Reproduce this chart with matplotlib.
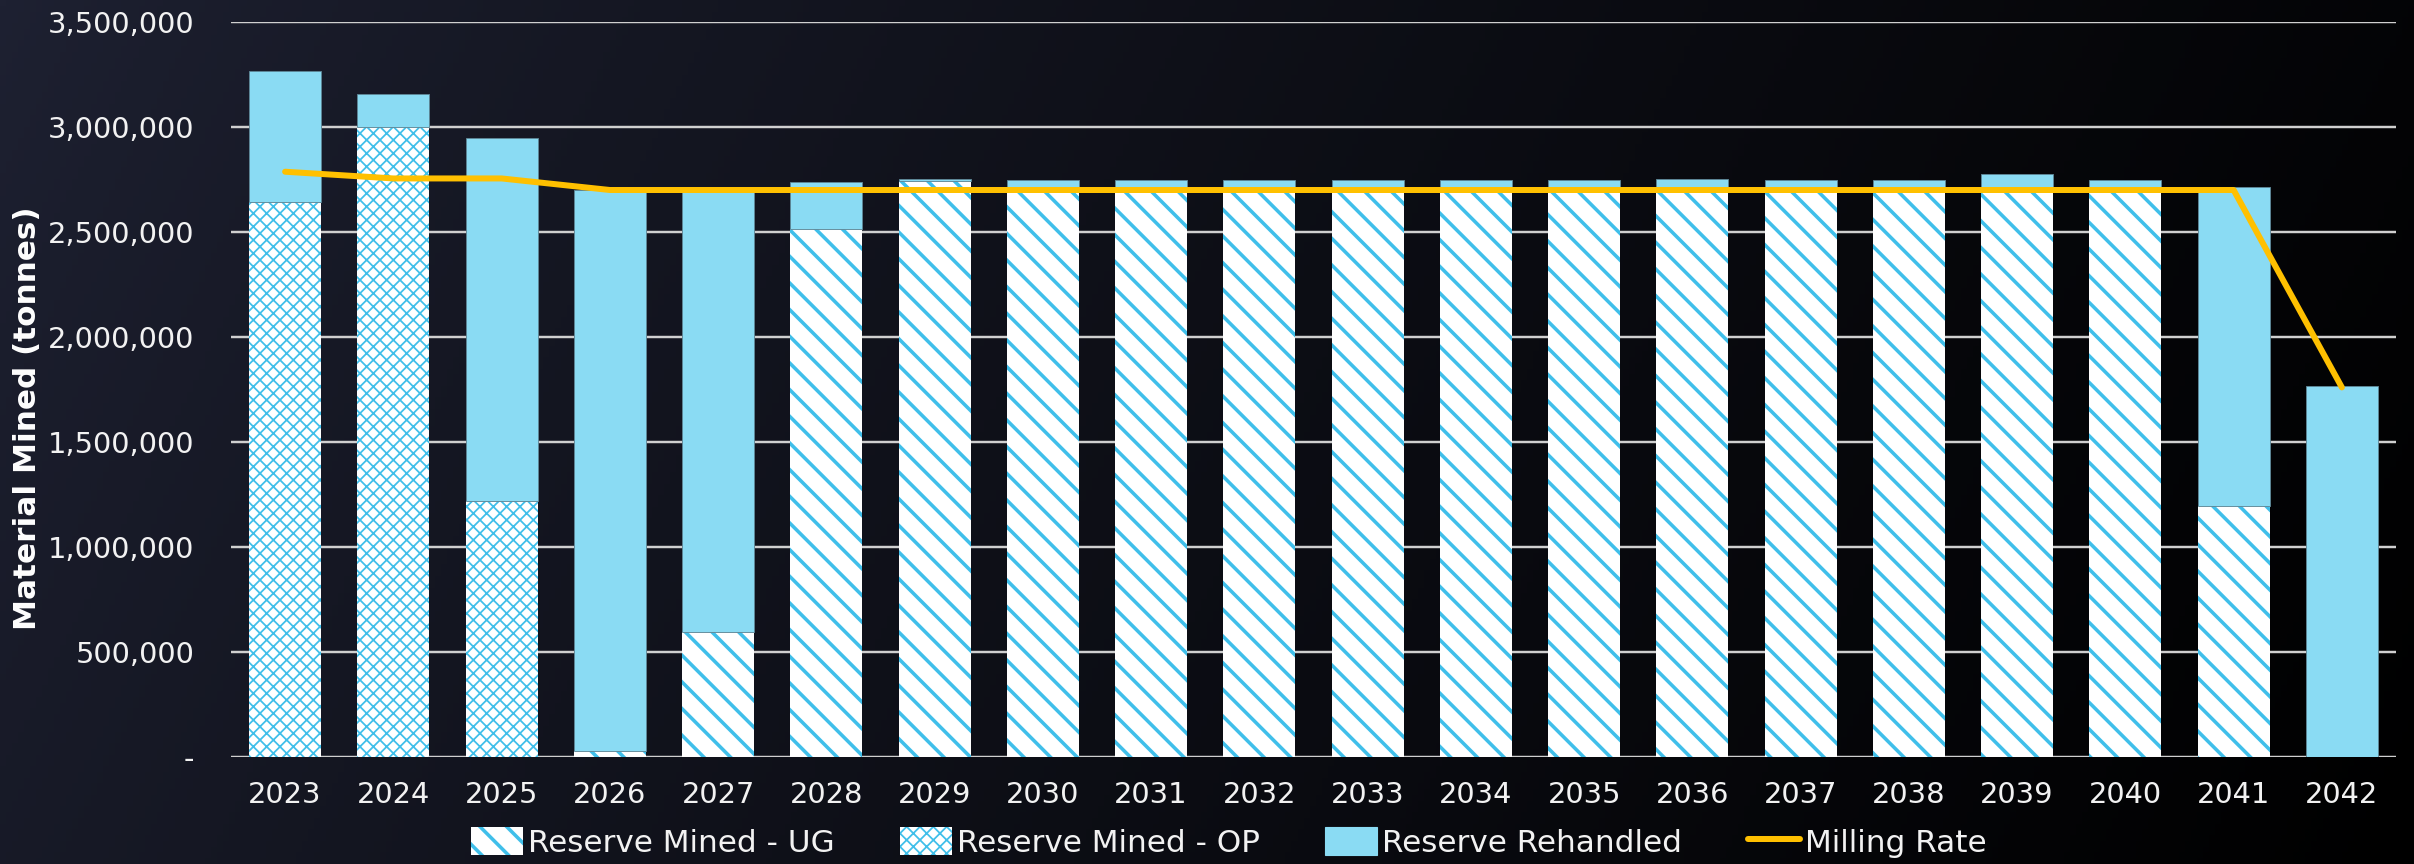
import matplotlib
matplotlib.use('Agg')
import matplotlib.pyplot as plt
from matplotlib.patches import Patch
from matplotlib.lines import Line2D
import numpy as np

# values in tonnes
years = [str(y) for y in range(2023, 2043)]
mined_ug = [0, 0, 0, 30e3, 597e3, 2513e3, 2745e3, 2700e3, 2700e3, 2700e3,
            2700e3, 2700e3, 2700e3, 2700e3, 2700e3, 2700e3, 2700e3, 2700e3, 1195e3, 0]
mined_op = [2641e3, 3000e3, 1219e3, 0, 0, 0, 0, 0, 0, 0,
            0, 0, 0, 0, 0, 0, 0, 0, 0, 0]
rehandled = [626e3, 155e3, 1727e3, 2672e3, 2103e3, 225e3, 7e3, 46e3, 46e3, 46e3,
             46e3, 46e3, 46e3, 52e3, 46e3, 46e3, 76e3, 46e3, 1519e3, 1767e3]
milling = [2787e3, 2755e3, 2755e3, 2700e3, 2700e3, 2700e3, 2700e3, 2700e3, 2700e3, 2700e3,
           2700e3, 2700e3, 2700e3, 2700e3, 2700e3, 2700e3, 2700e3, 2700e3, 2700e3, 1760e3]
y_ticks = [0, 500e3, 1000e3, 1500e3, 2000e3, 2500e3, 3000e3, 3500e3]
y_ticklabels = ['-', '500,000', '1,000,000', '1,500,000', '2,000,000',
                '2,500,000', '3,000,000', '3,500,000']

hatch_blue = '#40BFEA'
fill_blue = '#8ADBF3'
gold = '#FFC000'
UG_LW = 3.2
OP_LW = 1.6

plt.rcParams['font.family'] = ['DejaVu Sans']
plt.rcParams['hatch.linewidth'] = UG_LW


def with_hatch_lw(artist, lw):
    # give one patch its own hatch width
    if hasattr(artist, 'set_hatch_linewidth'):
        artist.set_hatch_linewidth(lw)
    orig = artist.draw

    def draw(renderer):
        with plt.rc_context({'hatch.linewidth': lw}):
            orig(renderer)
    artist.draw = draw


DPI = 80
fig = plt.figure(figsize=(2414 / DPI, 864 / DPI), dpi=DPI)

# background gradient: navy on the left fading to black on the right
bg = fig.add_axes([0, 0, 1, 1], zorder=-10)
gx, gy = np.meshgrid(np.linspace(0, 1, 400), np.linspace(0, 1, 150))
t = np.clip(gx * 0.85 + gy * 0.15, 0, 1) ** 0.8
left = np.array([30, 33, 50]) / 255.0
img = left[None, None, :] * (1 - t)[:, :, None]
bg.imshow(img, aspect='auto', extent=[0, 1, 0, 1], origin='upper')
bg.axis('off')

ax = fig.add_axes([231 / 2414, 1 - 757 / 864, 2165 / 2414, 735 / 864])
ax.set_facecolor('none')
x = np.arange(len(years))
w = 0.665

ug = np.array(mined_ug)
op = np.array(mined_op)
rh = np.array(rehandled)

ax.bar(x, ug, w, color='white', edgecolor=hatch_blue, hatch='\\', linewidth=0, zorder=3)
with plt.rc_context({'hatch.linewidth': OP_LW}):
    b_op = ax.bar(x, op, w, bottom=ug, color='white', edgecolor=hatch_blue, hatch='xx', linewidth=0, zorder=3)
for p in b_op:
    with_hatch_lw(p, OP_LW)
ax.bar(x, rh, w, bottom=ug + op, color=fill_blue, edgecolor='#5E8797', linewidth=0.8, zorder=3)
ax.plot(x, milling, color=gold, lw=5.4, solid_capstyle='round', solid_joinstyle='round', zorder=5)

ax.set_xlim(-0.5, len(years) - 0.5)
ax.set_ylim(0, 3500e3)
ax.set_yticks(y_ticks)
ax.set_yticklabels(y_ticklabels)
ax.set_xticks(x)
ax.set_xticklabels(years)
ax.tick_params(axis='y', length=0, pad=33, labelsize=26, labelcolor='#F2F2F2')
ax.tick_params(axis='x', length=0, pad=22, labelsize=26, labelcolor='#F2F2F2')
ax.grid(axis='y', color='#D0D0D0', lw=2.2, zorder=0)
ax.set_axisbelow(True)
for s in ax.spines.values():
    s.set_visible(False)

fig.text(28 / 2414, 1 - 418 / 864, 'Material Mined (tonnes)', rotation=90,
         ha='center', va='center', fontsize=28, fontweight='bold', color='white')

handles = [
    Patch(facecolor='white', edgecolor=hatch_blue, hatch='\\', linewidth=0),
    Patch(facecolor='white', edgecolor=hatch_blue, hatch='xx', linewidth=0),
    Patch(facecolor=fill_blue, edgecolor=fill_blue),
    Line2D([0], [0], color=gold, lw=5.4, solid_capstyle='round'),
]
labels = ['Reserve Mined - UG', 'Reserve Mined - OP', 'Reserve Rehandled', 'Milling Rate']
leg = fig.legend(handles, labels, loc='center', bbox_to_anchor=(0.509, 0.025), ncol=4,
                 frameon=False, fontsize=28, labelcolor='#F2F2F2',
                 handlelength=1.67, handleheight=1.0, handletextpad=0.16, columnspacing=2.1)
with_hatch_lw(leg.get_patches()[1], OP_LW)

fig.savefig('out.png', dpi=DPI)
